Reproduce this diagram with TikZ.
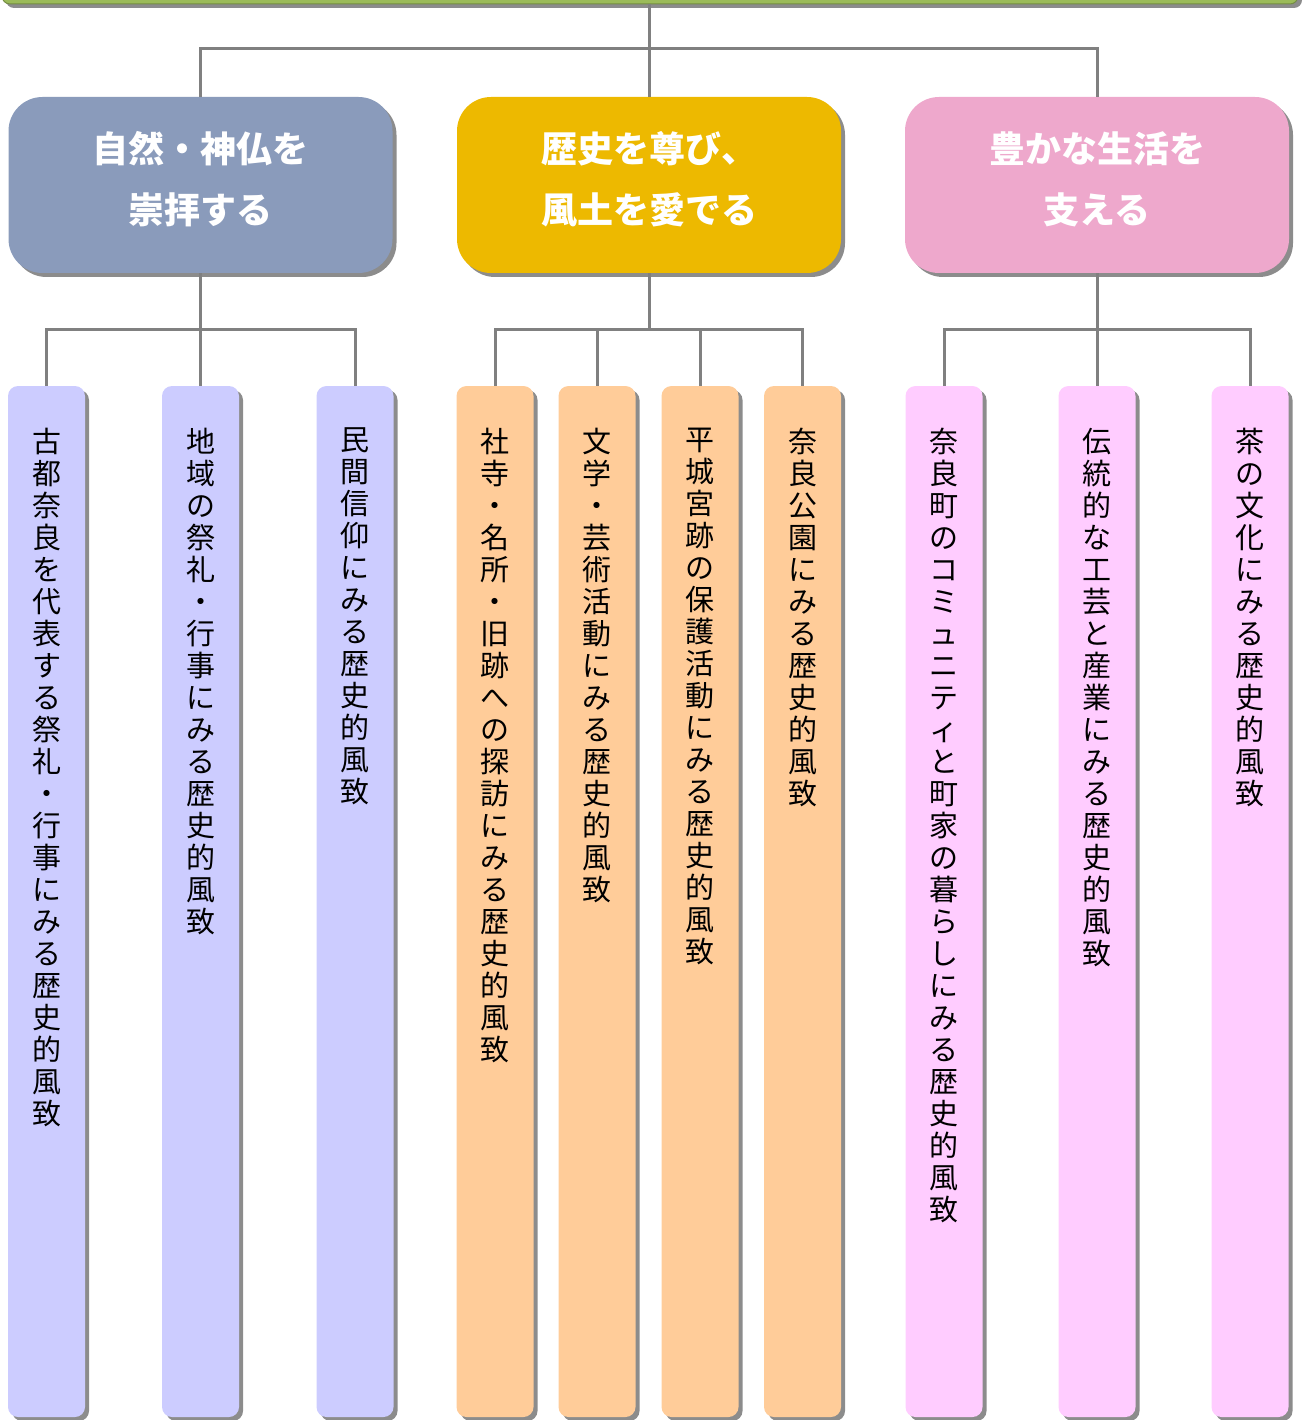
\documentclass[tikz,border=0pt]{standalone}
\usepackage{fontspec}
\setmainfont{Noto Sans CJK JP}
\usetikzlibrary{shadows}
\definecolor{hblue}{HTML}{8A9BBB}
\definecolor{hgold}{HTML}{EDB900}
\definecolor{hpink}{HTML}{EEA8CC}
\definecolor{cblue}{HTML}{CCCCFF}
\definecolor{cpeach}{HTML}{FFCC99}
\definecolor{cpink}{HTML}{FFCCFF}
\definecolor{linegray}{HTML}{808080}
\definecolor{shadowgray}{HTML}{8C8C8C}
\definecolor{topgreen}{HTML}{9BBB59}
\ExplSyntaxOn
\NewDocumentCommand\vtext{m}{
  \vbox{\baselineskip=32pt\lineskiplimit=-\maxdimen
    \tl_map_inline:nn{#1}{\hbox_to_wd:nn{30pt}{\hss##1\hss}}}}
\ExplSyntaxOff
\begin{document}
\begin{tikzpicture}[x=1pt,y=-1pt,
  conn/.style={draw=linegray,line width=3pt},
  shade/.style={drop shadow={shadow xshift=4pt,shadow yshift=-4pt,fill=shadowgray,opacity=1}},
  topbar/.style={shade,fill=topgreen,draw=topgreen!75!black,line width=1pt,rounded corners=8pt,minimum width=1296pt,minimum height=34pt,inner sep=0pt},
  head/.style={shade,rounded corners=34pt,minimum width=384pt,minimum height=176pt,inner sep=0pt},
  headtext/.style={inner sep=0pt,text=white,font=\fontsize{36}{61}\selectfont\bfseries,align=center},
  colbox/.style={shade,rounded corners=10pt,minimum width=77pt,minimum height=1031pt,inner sep=0pt},
  coltext/.style={anchor=north,inner sep=0pt,font=\fontsize{29}{32}\selectfont,text=black}]
\useasboundingbox (0,0) rectangle (1306,1420);
\clip (0,0) rectangle (1306,1420);
% top bar
\node[topbar] (top) at (650,-13) {};
% headers
\node[head,fill=hblue] (h1) at (200.5,185) {};
\node[head,fill=hgold] (h2) at (649,185) {};
\node[head,fill=hpink] (h3) at (1097,185) {};
\node[headtext] (l1) at ([yshift=6pt]h1.center) {自然・神仏を\\崇拝する};
\node[headtext] (l2) at ([yshift=6pt]h2.center) {歴史を尊び、\\風土を愛でる};
\node[headtext] (l3) at ([yshift=6pt]h3.center) {豊かな生活を\\支える};
% columns group 1
\node[colbox,fill=cblue] (c11) at (46.5,901.5) {};
\node[colbox,fill=cblue] (c12) at (200.5,901.5) {};
\node[colbox,fill=cblue] (c13) at (355,901.5) {};
% group 2
\node[colbox,fill=cpeach] (c21) at (495,901.5) {};
\node[colbox,fill=cpeach] (c22) at (597,901.5) {};
\node[colbox,fill=cpeach] (c23) at (700,901.5) {};
\node[colbox,fill=cpeach] (c24) at (802.5,901.5) {};
% group 3
\node[colbox,fill=cpink] (c31) at (944,901.5) {};
\node[colbox,fill=cpink] (c32) at (1097,901.5) {};
\node[colbox,fill=cpink] (c33) at (1250,901.5) {};
% column texts
\node[coltext] (t11) at ([yshift=-42pt]c11.north) {\vtext{古都奈良を代表する祭礼・行事にみる歴史的風致}};
\node[coltext] (t12) at ([yshift=-42pt]c12.north) {\vtext{地域の祭礼・行事にみる歴史的風致}};
\node[coltext] (t13) at ([yshift=-42pt]c13.north) {\vtext{民間信仰にみる歴史的風致}};
\node[coltext] (t21) at ([yshift=-42pt]c21.north) {\vtext{社寺・名所・旧跡への探訪にみる歴史的風致}};
\node[coltext] (t22) at ([yshift=-42pt]c22.north) {\vtext{文学・芸術活動にみる歴史的風致}};
\node[coltext] (t23) at ([yshift=-42pt]c23.north) {\vtext{平城宮跡の保護活動にみる歴史的風致}};
\node[coltext] (t24) at ([yshift=-42pt]c24.north) {\vtext{奈良公園にみる歴史的風致}};
\node[coltext] (t31) at ([yshift=-42pt]c31.north) {\vtext{奈良町のコミュニティと町家の暮らしにみる歴史的風致}};
\node[coltext] (t32) at ([yshift=-42pt]c32.north) {\vtext{伝統的な工芸と産業にみる歴史的風致}};
\node[coltext] (t33) at ([yshift=-42pt]c33.north) {\vtext{茶の文化にみる歴史的風致}};
% connectors top
\coordinate (b0) at (649,49);
\draw[conn] (top.south -| b0) -- (b0);
\draw[conn] (h1.north) |- (b0) -| (h3.north);
\draw[conn] (b0) -- (h2.north);
% group 1
\coordinate (b1) at (200.5,329);
\draw[conn] (h1.south) -- (b1);
\draw[conn] (c11.north) |- (b1) -| (c13.north);
\draw[conn] (b1) -- (c12.north);
% group 2
\coordinate (b2) at (649,329);
\draw[conn] (h2.south) -- (b2);
\draw[conn] (c21.north) |- (b2) -| (c24.north);
\draw[conn] (c22.north) -- (c22.north |- b2);
\draw[conn] (c23.north) -- (c23.north |- b2);
% group 3
\coordinate (b3) at (1097,329);
\draw[conn] (h3.south) -- (b3);
\draw[conn] (c31.north) |- (b3) -| (c33.north);
\draw[conn] (b3) -- (c32.north);
\end{tikzpicture}
\end{document}
